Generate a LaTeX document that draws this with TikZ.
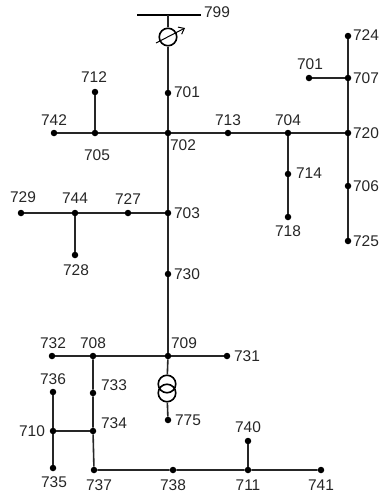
\documentclass[tikz,border=0pt]{standalone}
\usepackage{fontspec}
\setmainfont{Liberation Sans}
\usetikzlibrary{arrows.meta}
\tikzset{
  bus/.style={circle,fill=black,inner sep=0pt,minimum size=6.5pt},
  lab/.style={inner sep=0pt,font=\fontsize{15.5}{15.5}\selectfont,text=black!85},
  line/.style={line width=1.6pt,draw=black!85},
  wind/.style={circle,draw=black,line width=1.6pt,fill=none,inner sep=0pt,minimum size=17.5pt}
}
\begin{document}
\begin{tikzpicture}[x=1pt,y=-1pt]
\useasboundingbox (0,0) rectangle (381,496);
% nodes
\foreach \n/\x/\y in {a701/168/93,a702/168/133,a742/54/133,a705/95/133,a712/95/92,a713/228/133,a704/288/133,a720/348/133,a714/288/174,a718/288/217,a706/348/186,a725/348/241,a707/348/78,a724/348/36,b701/309/78,a703/168/213,a727/128/213,a744/75/213,a729/21/213,a728/75/255,a730/168/274,a709/168/356,a731/227/356,a708/93/356,a732/52/356,a733/93/393,a734/93/431,a710/53/431,a736/53/392,a735/53/468,a737/94/470,a738/173/470,a711/248/470,a740/248/441,a741/321/470,a775/168/420}
  \node[bus] (\n) at (\x,\y) {};
\coordinate (b1) at (137,15);
\coordinate (b2) at (201,15);
\coordinate (b799) at (168,15);
\node[wind] (reg) at (168,37) {};
\node[wind] (t1) at (167,384) {};
\node[wind] (t2) at (167,393) {};
\coordinate (r1) at (156,43);
\coordinate (r2) at (185,28);
% connectors
\draw[line width=2.8pt] (b1) -- (b2);
\draw[line] (b799) -- (reg);
\draw[line] (reg) -- (a701);
\draw[line width=1pt,-{Straight Barb[length=5pt,width=8pt]}] (r1) -- (r2);
\draw[line] (a701) -- (a702) -- (a703) -- (a730) -- (a709);
\draw[line] (a742) -- (a705) -- (a702) -- (a713) -- (a704) -- (a720);
\draw[line] (a705) -- (a712);
\draw[line] (a704) -- (a714) -- (a718);
\draw[line] (a724) -- (a707) -- (a720) -- (a706) -- (a725);
\draw[line] (b701) -- (a707);
\draw[line] (a729) -- (a744) -- (a727) -- (a703);
\draw[line] (a744) -- (a728);
\draw[line] (a732) -- (a708) -- (a709) -- (a731);
\draw[line] (a709) -- (t1);
\draw[line] (t2) -- (a775);
\draw[line] (a708) -- (a733) -- (a734) -- (a737) -- (a738) -- (a711) -- (a741);
\draw[line] (a711) -- (a740);
\draw[line] (a710) -- (a734);
\draw[line] (a736) -- (a710) -- (a735);
% labels
\foreach \t/\x/\y/\m in {799/217/12/l799,701/187/92/l701a,712/94/77/l712,742/54/120/l742,705/97/155/l705,702/183/145/l702,713/228/120/l713,704/288/120/l704,720/366/133/l720,714/309/173/l714,718/288/231/l718,706/366/186/l706,725/366/241/l725,707/366/78/l707,724/366/35/l724,701/310/64/l701b,703/187/213/l703,727/128/199/l727,744/75/198/l744,729/23/197/l729,728/76/270/l728,730/187/274/l730,709/184/343/l709,731/247/356/l731,708/93/343/l708,732/53/343/l732,733/114/385/l733,734/114/423/l734,710/32/431/l710,736/53/379/l736,735/54/482/l735,737/99/485/l737,738/173/485/l738,711/248/485/l711,740/248/427/l740,741/321/485/l741,775/188/420/l775}
  \node[lab] (\m) at (\x,\y) {\t};
\end{tikzpicture}
\end{document}
